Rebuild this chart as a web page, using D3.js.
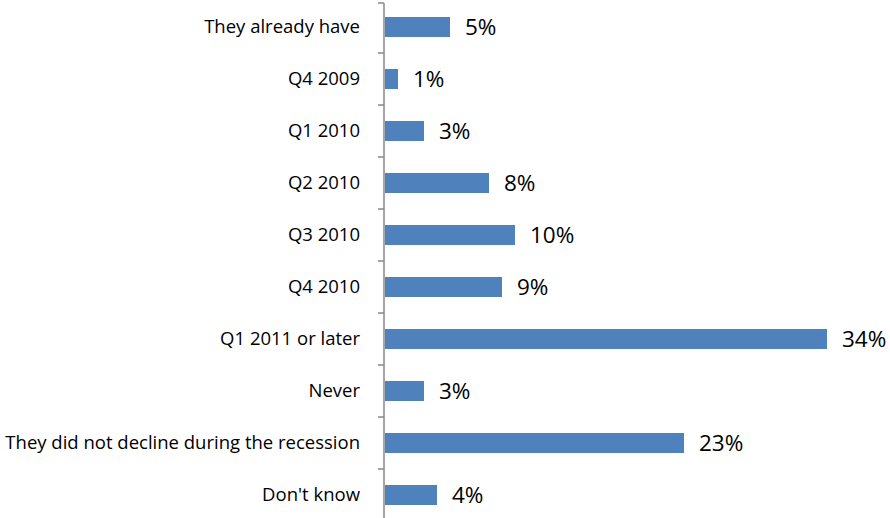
<!DOCTYPE html>
<html>
  <head>
    <meta charset="utf-8">
    <title>When will they recover</title>
    <script src="https://d3js.org/d3.v7.min.js"></script>
    <style>
      body { margin: 0; background: white; }
      svg { display: block; font-family: "Open Sans", sans-serif; }
    </style>
  </head>
  <body>
    <svg id="chart" width="890" height="518"></svg>
    <script>
      // data
      var categories = ["They already have", "Q4 2009", "Q1 2010", "Q2 2010", "Q3 2010",
        "Q4 2010", "Q1 2011 or later", "Never", "They did not decline during the recession", "Don't know"];
      var values = [5, 1, 3, 8, 10, 9, 34, 3, 23, 4];

      var svg = d3.select("#chart");
      var axisX = 384;

      var y = d3.scaleBand()
        .domain(categories)
        .range([1, 521])
        .paddingInner(0.615)
        .paddingOuter(0.3075);
      var x = d3.scaleLinear()
        .domain([0, 35])
        .range([axisX + 1, axisX + 1 + 13 * 35]);

      // bars
      svg.selectAll(".bar")
        .data(values)
        .enter().append("rect")
          .attr("class", "bar")
          .attr("x", x(0))
          .attr("y", function(d, i) { return y(categories[i]); })
          .attr("width", function(d) { return x(d) - x(0); })
          .attr("height", y.bandwidth())
          .attr("fill", "#4F81BD");

      // value labels
      svg.selectAll(".val")
        .data(values)
        .enter().append("text")
          .attr("class", "val")
          .attr("x", function(d) { return x(d) + 15; })
          .attr("y", function(d, i) { return y(categories[i]) + y.bandwidth() / 2; })
          .attr("dy", "0.36em")
          .attr("font-size", 22.5)
          .attr("fill", "#000")
          .text(function(d) { return d + "%"; });

      // category axis
      var axis = d3.axisLeft(y).tickSize(0).tickPadding(24);
      var g = svg.append("g")
        .attr("transform", "translate(" + axisX + ",0)")
        .call(axis);
      g.select(".domain").remove();
      g.selectAll("text")
        .attr("font-size", 18.5)
        .attr("font-family", "'Open Sans', sans-serif")
        .attr("fill", "#000");

      // axis line and tick marks between categories
      svg.append("line")
        .attr("x1", axisX).attr("x2", axisX)
        .attr("y1", 3).attr("y2", 518)
        .attr("stroke", "#888").attr("stroke-width", 1.5);
      var step = y.step();
      svg.selectAll(".tick-mark")
        .data(d3.range(1, categories.length))
        .enter().append("line")
          .attr("class", "tick-mark")
          .attr("x1", axisX - 6).attr("x2", axisX)
          .attr("y1", function(d) { return y.range()[0] + d * step; })
          .attr("y2", function(d) { return y.range()[0] + d * step; })
          .attr("stroke", "#888").attr("stroke-width", 1.5);
      svg.append("line")
        .attr("x1", axisX - 6).attr("x2", axisX)
        .attr("y1", 3).attr("y2", 3)
        .attr("stroke", "#888").attr("stroke-width", 1.5);
    </script>
  </body>
</html>
